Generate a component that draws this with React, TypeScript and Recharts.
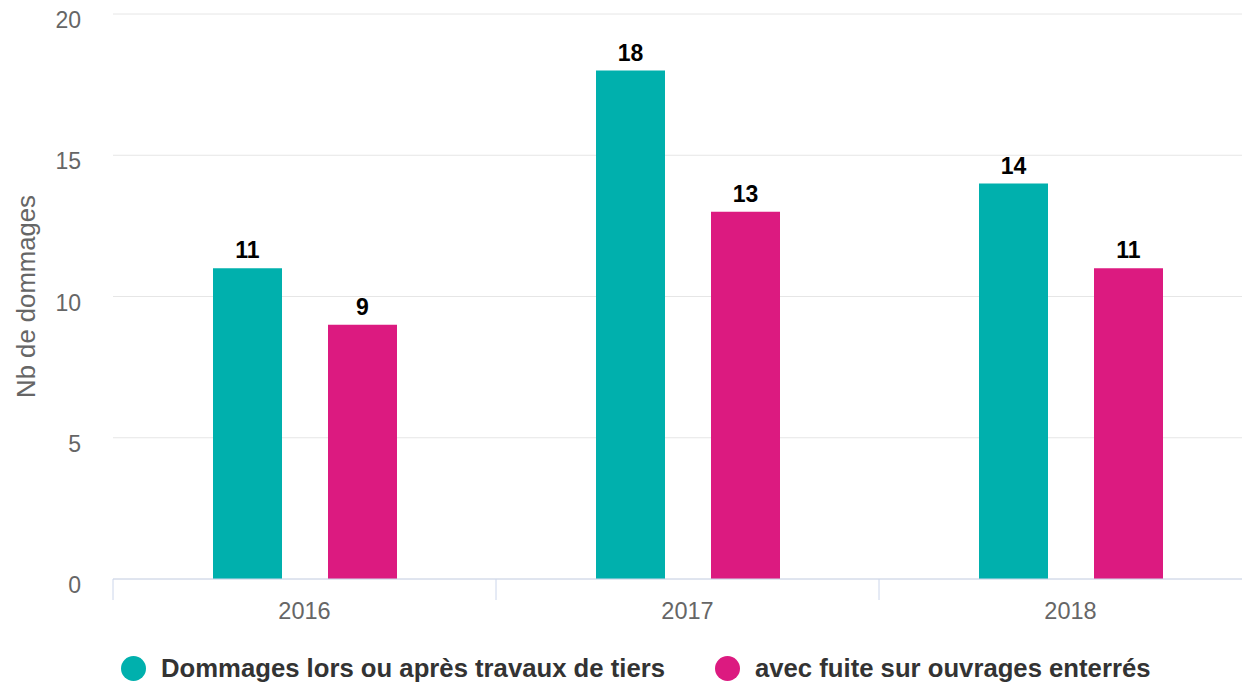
import { BarChart, Bar, XAxis, YAxis, CartesianGrid, LabelList, Label } from "recharts";

const FONT = '"Liberation Sans", Arial, Helvetica, sans-serif';

// values
const years = ["2016", "2017", "2018"];
const travauxTiers = [11, 18, 14];
const fuiteEnterres = [9, 13, 11];
const yTicks = [0, 5, 10, 15, 20];

const series = [
  { key: "tiers", name: "Dommages lors ou après travaux de tiers", color: "#00b0ad" },
  { key: "fuite", name: "avec fuite sur ouvrages enterrés", color: "#dc1a80" },
];

const data = years.map((year, i) => ({
  year,
  tiers: travauxTiers[i],
  fuite: fuiteEnterres[i],
}));

// category label + tick marks on the category boundaries (highcharts style)
function XTick({ x, y, payload, index, width, visibleTicksCount }: any) {
  const half = width / visibleTicksCount / 2;
  const last = index === visibleTicksCount - 1;
  return (
    <g>
      <line x1={x - half} x2={x - half} y1={y} y2={y + 21} stroke="#ccd6eb" />
      {last && <line x1={x + half} x2={x + half} y1={y} y2={y + 21} stroke="#ccd6eb" />}
      <text x={x} y={y + 40} textAnchor="middle" fill="#666666" fontSize={23.5} fontFamily={FONT}>
        {payload.value}
      </text>
    </g>
  );
}

function YTick({ x, y, payload }: any) {
  return (
    <text x={x} y={y + 14} textAnchor="end" fill="#666666" fontSize={23} fontFamily={FONT}>
      {payload.value}
    </text>
  );
}

function YTitle({ viewBox }: any) {
  const cy = viewBox.y + viewBox.height / 2;
  return (
    <text
      x={35}
      y={cy}
      transform={`rotate(-90, 35, ${cy})`}
      textAnchor="middle"
      fill="#666666"
      fontSize={25.7}
      fontFamily={FONT}
    >
      Nb de dommages
    </text>
  );
}

export default function App() {
  return (
    <div
      style={{
        margin: -8,
        width: 1250,
        height: 691,
        overflow: "hidden",
        position: "relative",
        background: "#ffffff",
        fontFamily: FONT,
      }}
    >
      <BarChart
        width={1262}
        height={691}
        data={data}
        margin={{ top: 14, right: 0, bottom: 0, left: 0 }}
        barSize={69}
        barGap={46}
      >
        <CartesianGrid vertical={false} stroke="#e6e6e6" />
        <XAxis
          dataKey="year"
          height={112}
          interval={0}
          tickLine={false}
          tickSize={0}
          tickMargin={0}
          axisLine={{ stroke: "#ccd6eb" }}
          tick={XTick}
        />
        <YAxis
          domain={[0, 20]}
          ticks={yTicks}
          width={113}
          tickLine={false}
          axisLine={false}
          tickSize={0}
          tickMargin={32}
          tick={YTick}
        >
          <Label content={YTitle} />
        </YAxis>
        {series.map((s) => (
          <Bar key={s.key} dataKey={s.key} name={s.name} fill={s.color} isAnimationActive={false}>
            <LabelList
              dataKey={s.key}
              position="top"
              offset={10}
              fill="#000000"
              fontSize={23}
              fontWeight="bold"
              fontFamily={FONT}
            />
          </Bar>
        ))}
      </BarChart>
      <div
        style={{
          position: "absolute",
          left: 121,
          top: 654,
          height: 29,
          display: "flex",
          alignItems: "center",
        }}
      >
        {series.map((s, i) => (
          <div key={s.key} style={{ display: "flex", alignItems: "center", marginLeft: i === 0 ? 0 : 50 }}>
            <span
              style={{
                width: 25,
                height: 25,
                borderRadius: "50%",
                background: s.color,
                marginRight: 15,
                display: "inline-block",
              }}
            />
            <span
              style={{
                fontSize: 25.7,
                lineHeight: "29px",
                fontWeight: "bold",
                color: "#333333",
                whiteSpace: "nowrap",
              }}
            >
              {s.name}
            </span>
          </div>
        ))}
      </div>
    </div>
  );
}
